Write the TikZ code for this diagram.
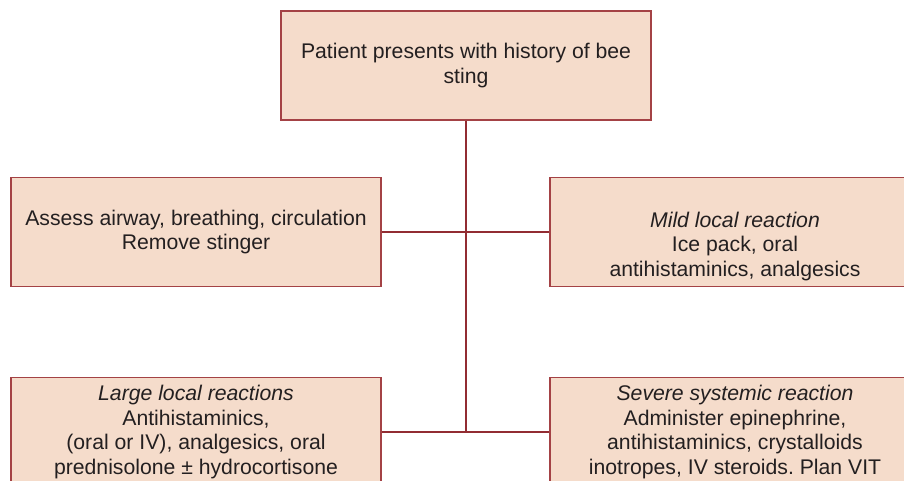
\documentclass[tikz,border=0pt]{standalone}
\usepackage{fontspec}
\setmainfont{Liberation Sans}
\usetikzlibrary{positioning}
\definecolor{boxfill}{HTML}{F5DCCB}
\definecolor{boxline}{HTML}{A44245}
\definecolor{linkc}{HTML}{922C32}
\definecolor{txtc}{HTML}{231F20}
\frenchspacing

\begin{document}
\begin{tikzpicture}[x=1pt, y=-1pt,
    stepbox/.style={draw=boxline, fill=boxfill, line width=1.8pt,
      minimum width=370pt, minimum height=109pt, inner sep=0pt,
      align=center, text=txtc, font=\fontsize{21.2}{24.5}\selectfont},
    link/.style={draw=linkc, line width=2.6pt}]
  \useasboundingbox (0,0) rectangle (904,480);
  \clip (0,0) rectangle (904,480);
  % boxes
  \node[stepbox] (sting) at (466,65.5)
    {Patient presents with history of bee\\sting};
  \node[stepbox] (airway) at (196,232)
    {Assess airway, breathing, circulation\\Remove stinger};
  \node[stepbox] (mild) at (735,232)
    {\parbox[c][40pt][t]{360pt}{\centering
      \textit{Mild local reaction}\\Ice pack, oral\\antihistaminics, analgesics}};
  \node[stepbox] (large) at (196,432)
    {\textit{Large local reactions}\\Antihistaminics,\\(oral or IV), analgesics, oral\\prednisolone ± hydrocortisone};
  \node[stepbox] (severe) at (735,432)
    {\textit{Severe systemic reaction}\\Administer epinephrine,\\antihistaminics, crystalloids\\inotropes, IV steroids. Plan VIT};
  % connectors
  \coordinate (jn) at (sting.south |- large.east);
  \draw[link] (sting.south) -- (jn);
  \draw[link] (airway.east) -- (mild.west);
  \draw[link] (large.east) -- (severe.west);
\end{tikzpicture}
\end{document}
